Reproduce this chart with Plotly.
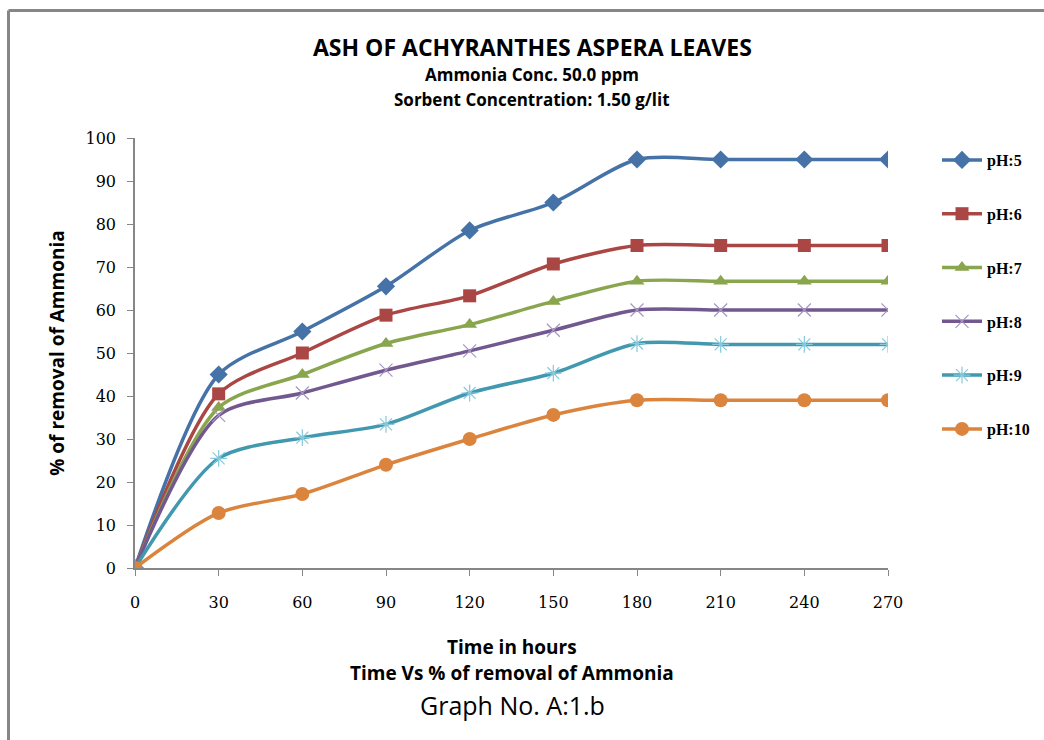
import plotly.graph_objects as go

# Contact time (hours)
time_h = [0, 30, 60, 90, 120, 150, 180, 210, 240, 270]

# % removal of ammonia at each pH
ph5 = [0, 45.0, 55.0, 65.5, 78.5, 85.0, 95.0, 95.0, 95.0, 95.0]
ph6 = [0, 40.5, 50.0, 58.8, 63.3, 70.7, 75.0, 75.0, 75.0, 75.0]
ph7 = [0, 37.3, 45.0, 52.2, 56.6, 62.0, 66.7, 66.7, 66.7, 66.7]
ph8 = [0, 35.5, 40.7, 46.0, 50.5, 55.3, 60.0, 60.0, 60.0, 60.0]
ph9 = [0, 25.5, 30.3, 33.4, 40.7, 45.3, 52.2, 52.0, 52.0, 52.0]
ph10 = [0, 12.8, 17.2, 24.0, 30.0, 35.6, 39.0, 39.0, 39.0, 39.0]

series_names = ["pH:5", "pH:6", "pH:7", "pH:8", "pH:9", "pH:10"]
series_vals = [ph5, ph6, ph7, ph8, ph9, ph10]

x_ticks = [0, 30, 60, 90, 120, 150, 180, 210, 240, 270]
y_ticks = [0, 10, 20, 30, 40, 50, 60, 70, 80, 90, 100]

styles = [
    dict(line="#4572A7", marker="#4572A7", symbol="diamond", size=14, mline=0),
    dict(line="#AA4643", marker="#AA4643", symbol="square", size=13, mline=0),
    dict(line="#89A54E", marker="#89A54E", symbol="triangle-up", size=13, mline=0),
    dict(line="#71588F", marker="#A796C4", symbol="x-thin", size=13, mline=1.2),
    dict(line="#4198AF", marker="#86C9DC", symbol="asterisk", size=14, mline=1.2),
    dict(line="#DB843D", marker="#DB843D", symbol="circle", size=14, mline=0),
]

fig = go.Figure()
for i, (name, vals, st) in enumerate(zip(series_names, series_vals, styles)):
    fig.add_trace(go.Scatter(
        x=time_h, y=vals, name=f"<b>{name}</b>", mode="lines+markers",
        legendgroup=f"g{i}",
        line=dict(color=st["line"], width=3.5, shape="spline", smoothing=0.8),
        marker=dict(symbol=st["symbol"], size=st["size"], color=st["marker"],
                    line=dict(color=st["marker"], width=st["mline"])),
    ))

axis_color = "#868686"
tick_font = dict(family="DejaVu Serif", size=16, color="#000000")
label_font = "Open Sans"

fig.update_layout(
    width=1044, height=740,
    margin=dict(l=135, r=156, t=138, b=172),
    paper_bgcolor="white", plot_bgcolor="white",
    showlegend=True,
    legend=dict(
        xref="container", yref="container",
        x=937 / 1044, y=1 - 143 / 740, xanchor="left", yanchor="top",
        font=dict(family="Liberation Serif", size=16, color="#000000"),
        tracegroupgap=30, itemwidth=40, bgcolor="rgba(0,0,0,0)",
    ),
    xaxis=dict(
        range=[0, 270], tickmode="array", tickvals=x_ticks,
        ticktext=[str(v) for v in x_ticks],
        showgrid=False, zeroline=False, showline=True,
        linecolor=axis_color, linewidth=1.5,
        ticks="outside", ticklen=6, tickcolor=axis_color,
        tickfont=tick_font, ticklabelstandoff=13,
    ),
    yaxis=dict(
        range=[0, 100], tickmode="array", tickvals=y_ticks,
        ticktext=[str(v) for v in y_ticks],
        showgrid=False, zeroline=False, showline=True,
        linecolor=axis_color, linewidth=1.5,
        ticks="outside", ticklen=6, tickcolor=axis_color,
        tickfont=tick_font, ticklabelstandoff=8,
        title=dict(text="<b>% of removal of Ammonia</b>",
                   font=dict(family=label_font, size=19, color="#000000"),
                   standoff=16),
    ),
)

# Titles and captions
texts = [
    ("<b>ASH OF ACHYRANTHES ASPERA LEAVES</b>", 532, 47, 23),
    ("<b>Ammonia Conc. 50.0 ppm</b>", 532, 74, 17),
    ("<b>Sorbent Concentration: 1.50 g/lit</b>", 532, 99, 17),
    ("<b>Time in hours</b>", 512, 647, 19),
    ("<b>Time Vs % of removal of Ammonia</b>", 512, 673, 19),
    ("Graph No. A:1.b", 512, 705, 25),
]
x0, x1, y0, y1 = 135, 888, 568, 138


def px_to_paper(px, py):
    return (px - x0) / (x1 - x0), (y0 - py) / (y0 - y1)


for txt, px, py, sz in texts:
    xp, yp = px_to_paper(px, py)
    fig.add_annotation(text=txt, x=xp, y=yp, xref="paper", yref="paper",
                       xanchor="center", yanchor="middle", showarrow=False,
                       font=dict(family=label_font, size=sz, color="#000000"))

# Chart frame (top and left edges)
lx, ty = px_to_paper(8.5, 10.5)
rx, by = px_to_paper(1044, 740)
fig.add_shape(type="line", xref="paper", yref="paper", x0=lx, x1=rx, y0=ty, y1=ty,
              line=dict(color="#868686", width=3))
fig.add_shape(type="line", xref="paper", yref="paper", x0=lx, x1=lx, y0=ty, y1=by,
              line=dict(color="#868686", width=3))

fig.write_html("out.html")
